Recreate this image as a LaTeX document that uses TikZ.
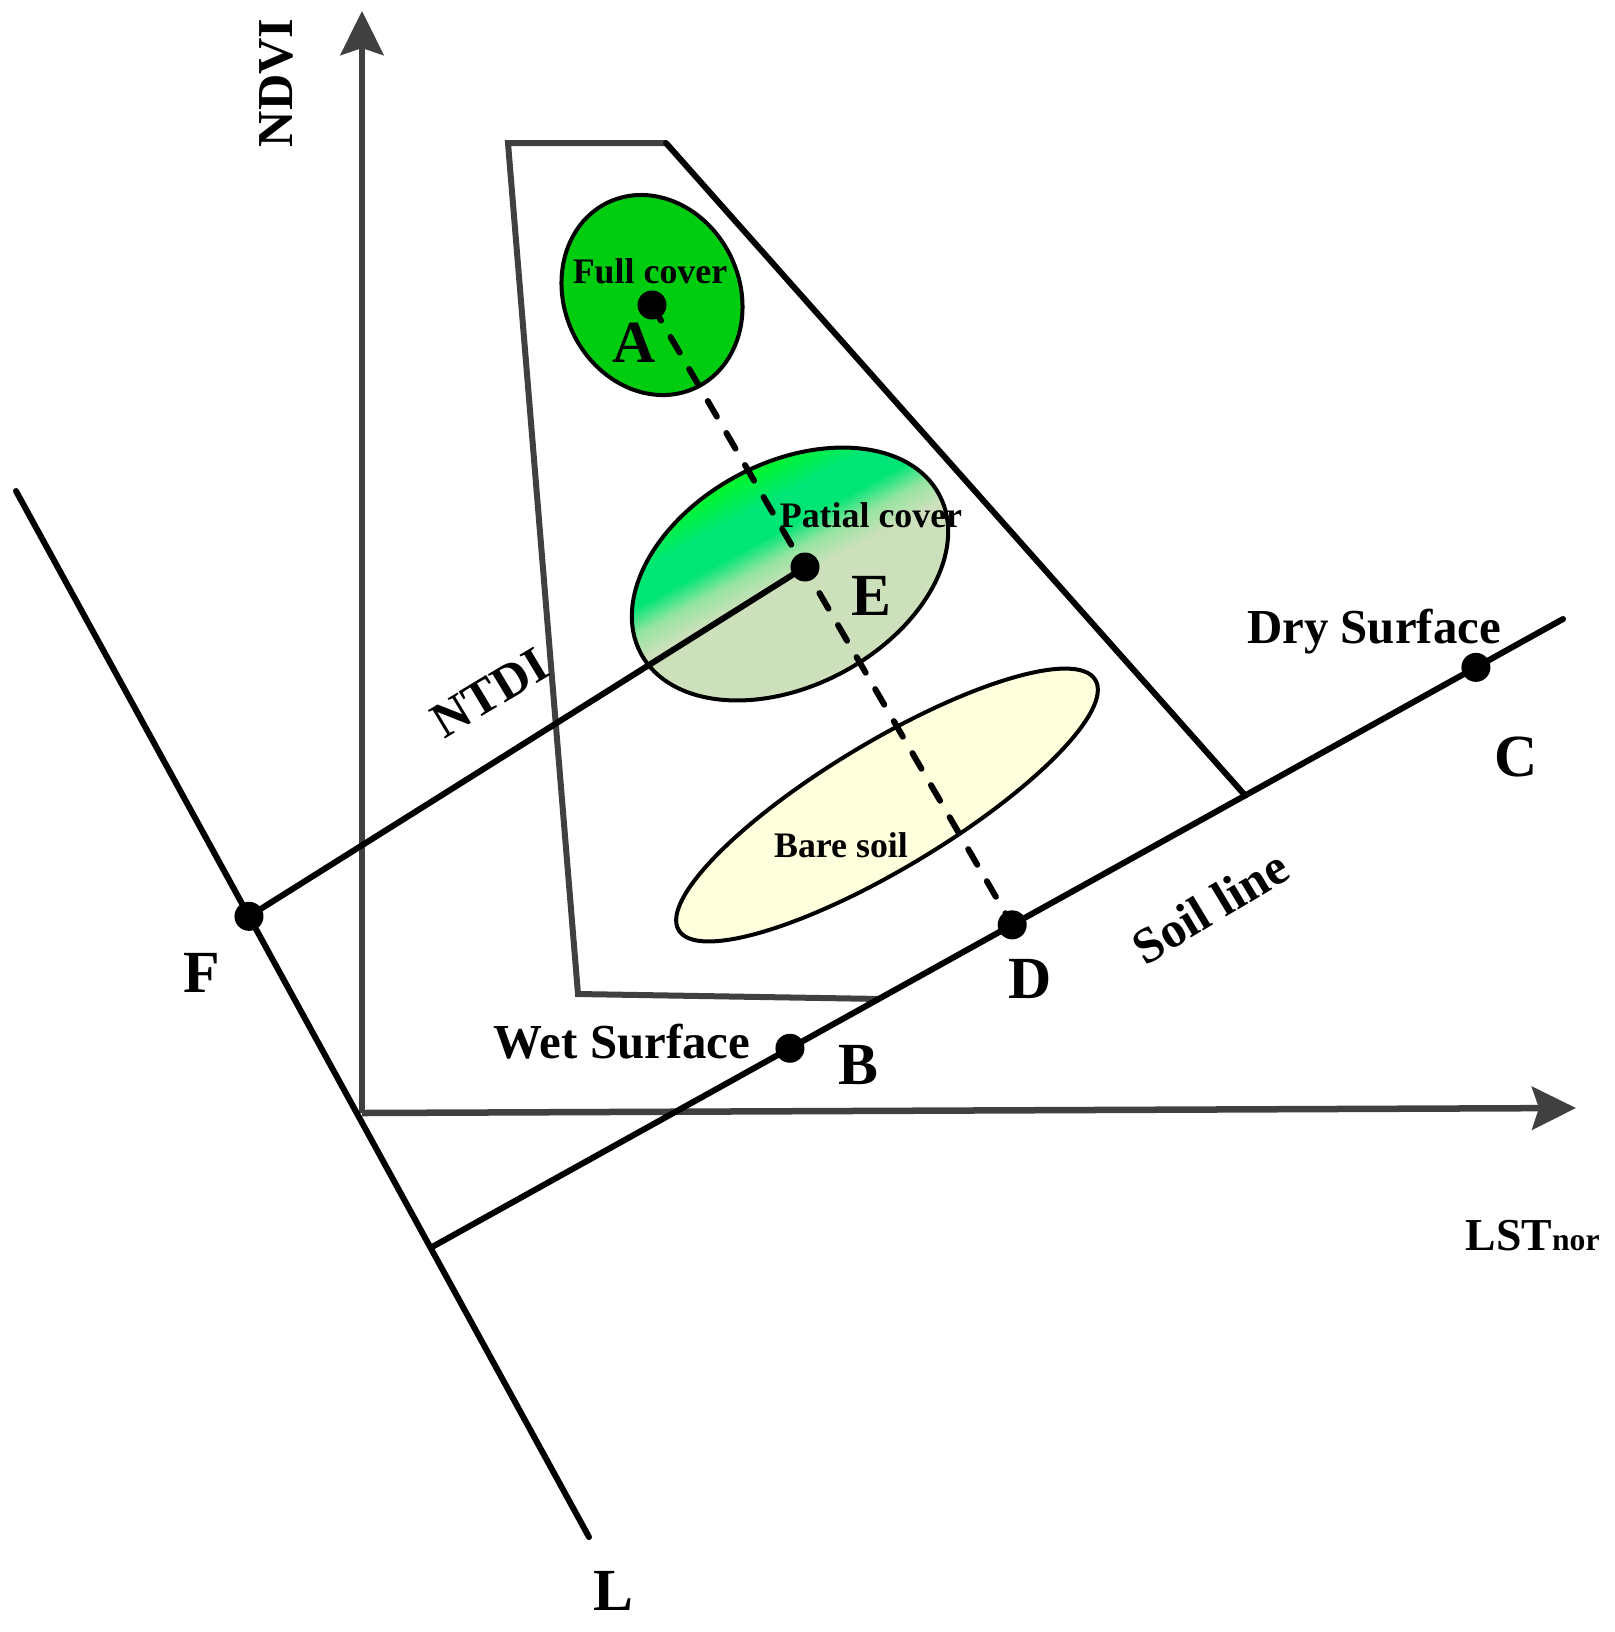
\documentclass[tikz,border=0pt]{standalone}
\usepackage{fontspec}
\setmainfont{Liberation Serif}
\usetikzlibrary{arrows.meta,calc}
\definecolor{axisgray}{RGB}{64,64,64}
\definecolor{fullgreen}{RGB}{0,204,16}
\definecolor{soilyellow}{RGB}{255,255,221}
\definecolor{pgray}{RGB}{204,224,187}
\definecolor{plight}{RGB}{150,228,160}
\definecolor{pspring}{RGB}{0,230,118}
\definecolor{pbright}{RGB}{0,255,0}
\pgfdeclareverticalshading{partialshade}{100bp}{color(0bp)=(pgray); color(49bp)=(pgray); color(53bp)=(plight); color(57bp)=(pspring); color(62bp)=(pspring); color(71bp)=(pbright); color(100bp)=(pbright)}
\begin{document}
\begin{tikzpicture}[x=0.01cm, y=0.01cm,
  axisline/.style={draw=axisgray, line width=0.065cm, -{Stealth[length=0.44cm,width=0.43cm,inset=0.07cm]}},
  blk/.style={draw=black, line width=0.06cm, line cap=round},
  trap/.style={draw=axisgray, line width=0.06cm},
  ell/.style={draw=black, line width=0.04cm},
  dashln/.style={draw=black, line width=0.06cm, line cap=round, dash pattern=on 0.18cm off 0.19cm},
  dot/.style={circle, fill=black, inner sep=0pt, minimum size=0.29cm},
  big/.style={font=\bfseries\fontsize{17pt}{20pt}\selectfont, inner sep=0pt, anchor=base},
  med/.style={font=\bfseries\fontsize{13.9pt}{16pt}\selectfont, inner sep=0pt, anchor=base},
  sml/.style={font=\bfseries\fontsize{10.2pt}{12pt}\selectfont, inner sep=0pt, anchor=base},
  rot/.style={font=\bfseries\fontsize{14.3pt}{16pt}\selectfont, inner sep=0pt, anchor=center}]
\useasboundingbox (0,0) rectangle (1615,-1632);
% key points
\coordinate (O) at (362,-1113);
\coordinate (Ytip) at (362,-11);
\coordinate (Xtip) at (1576,-1108);
\coordinate (Ltop) at (16,-491);
\coordinate (Lbot) at (589,-1537);
\coordinate (S0) at (432,-1247);
\coordinate (S1) at (1563,-619);
\coordinate (pB) at ($(S0)!0.3165!(S1)$);
\coordinate (pD) at ($(S0)!0.513!(S1)$);
\coordinate (pC) at ($(S0)!0.923!(S1)$);
\coordinate (T1) at ($(S0)!0.395!(S1)$);
\coordinate (T2) at ($(S0)!0.719!(S1)$);
\coordinate (pF) at ($(Ltop)!0.4066!(Lbot)$);
\coordinate (pE) at (805,-567);
\coordinate (pA) at (652,-305);
\coordinate (T3) at (578,-994);
\coordinate (T4) at (508,-143);
\coordinate (T5) at (666,-143);
% ellipses
\draw[ell, fill=fullgreen, rotate around={25:(652,-295)}] (652,-295) ellipse [x radius=87.7, y radius=102.5];
\shadedraw[ell, shading=partialshade, shading angle=28, rotate around={28:(790,-574)}] (790,-574) ellipse [x radius=169, y radius=111.5];
\draw[ell, fill=soilyellow, rotate around={31:(887,-805)}] (887,-805) ellipse [x radius=243, y radius=63.3];
% axes and trapezoid
\draw[axisline] (O) -- (Ytip);
\draw[axisline] (O) -- (Xtip);
\draw[trap] (T1) -- (T3) -- (T4) -- (T5);
% black lines
\draw[blk] (T5) -- (T2);
\draw[blk] (Ltop) -- (Lbot);
\draw[blk] (S0) -- (S1);
\draw[blk] (pF) -- (pE);
\draw[dashln] (pA) -- (pD);
% dots
\node[dot] (A) at (pA) {};
\node[dot] (E) at (pE) {};
\node[dot] (F) at (pF) {};
\node[dot] (B) at (pB) {};
\node[dot] (D) at (pD) {};
\node[dot] (C) at (pC) {};
% labels
\node[big] (lA) at (634,-362) {A};
\node[big] (lE) at (871,-615) {E};
\node[big] (lC) at (1516,-776) {C};
\node[big] (lD) at (1030,-998) {D};
\node[big] (lB) at (858,-1084) {B};
\node[big] (lF) at (202,-992) {F};
\node[big] (lL) at (613,-1610) {L};
\node[sml] (tFull) at (650,-283) {Full cover};
\node[sml] (tPat) at (871,-527) {Patial cover};
\node[sml] (tBare) at (841,-857) {Bare soil};
\node[med] (tDry) at (1374,-643) {Dry Surface};
\node[med] (tWet) at (622,-1058) {Wet Surface};
\node[rot, rotate=90] (tNDVI) at (276,-83) {NDVI};
\node[rot, rotate=31] (tNTDI) at (490,-693) {NTDI};
\node[rot, rotate=31] (tSoil) at (1210,-907) {Soil line};
\node[anchor=base west, inner sep=0pt] (tLST) at (1465,-1250) {\bfseries\fontsize{13pt}{15pt}\selectfont LST\fontsize{9pt}{11pt}\selectfont nor};
\end{tikzpicture}
\end{document}
